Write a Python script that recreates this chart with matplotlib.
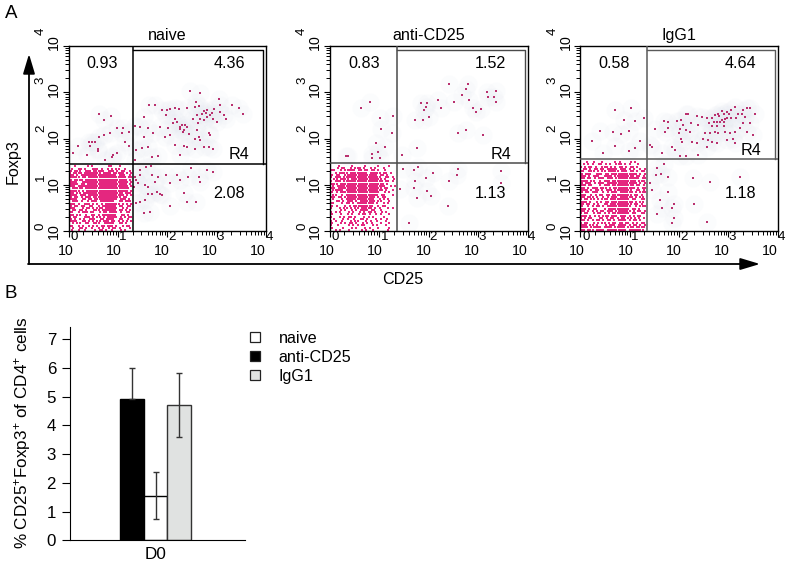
import numpy as np
import matplotlib
matplotlib.use("Agg")
import matplotlib.pyplot as plt
from matplotlib.lines import Line2D
from matplotlib.patches import FancyArrowPatch
from matplotlib.ticker import NullFormatter

plt.rcParams['font.family'] = ['Liberation Sans', 'DejaVu Sans']
plt.rcParams['mathtext.fontset'] = 'custom'
plt.rcParams['mathtext.rm'] = 'Liberation Sans'
plt.rcParams['mathtext.default'] = 'regular'

W, H = 788, 562
FS = 11.6
PINK = '#E4277F'
DOT = '#B9316F'

# flow panels: sparse events as (log10 CD25, log10 Foxp3)
naive_x = [1.35, 1.52, 1.64, 1.76, 1.45, 1.62, 1.72, 1.52, 1.37, 1.49, 1.6, 1.69, 1.82, 1.35, 1.86, 1.96, 2.06, 2.01,
           1.89, 1.99, 1.98, 2.06, 2.16, 2.23, 2.16, 2.2, 2.3, 2.36, 2.4, 2.26, 2.34, 2.16, 2.33, 2.4, 2.26, 2.57, 2.64,
           2.66, 2.57, 2.74, 2.84, 2.93, 2.84, 2.87, 2.6, 2.4, 2.57, 2.64, 2.74, 2.8, 2.94, 2.6, 2.67, 2.74, 2.8, 2.87,
           2.93, 3.0, 3.07, 3.14, 3.19, 3.31, 3.45, 3.53, 3.07, 2.47, 2.67, 2.58, 3.04, 2.7, 2.78, 2.9, 2.52, 2.63,
           2.25, 2.31, 2.12, 2.45,
           0.61, 0.71, 0.86, 0.99, 1.11, 1.22, 1.08, 0.84, 0.71, 0.61, 0.47, 0.54, 0.41, 0.44, 0.2, 0.1, 0.59, 0.37,
           0.59, 0.88, 0.91, 0.74, 0.98, 1.15, 1.22,
           1.35, 1.4, 1.33, 1.37, 1.45, 1.57, 1.67, 1.45, 1.69, 1.55, 1.62, 1.76, 1.82, 1.98, 2.2, 2.26, 2.06, 1.79,
           1.86, 1.69, 1.6, 1.89, 1.55, 1.45, 1.37, 1.66, 1.52, 2.06, 2.34, 2.4, 2.59, 2.48, 2.8, 2.93, 2.67, 2.64,
           2.43]
naive_y = [2.27, 2.47, 2.73, 2.72, 2.25, 2.22, 2.11, 2.04, 1.75, 1.8, 1.81, 1.6, 1.63, 1.53, 2.25, 2.04, 2.07, 2.22,
           2.61, 2.61, 2.5, 2.63, 2.66, 2.63, 2.43, 2.35, 2.3, 2.29, 2.25, 2.25, 2.18, 1.86, 1.84, 1.82, 1.65, 2.0, 2.04,
           1.96, 1.78, 1.82, 1.82, 1.78, 2.11, 2.07, 2.18, 2.65, 2.68, 2.7, 2.59, 2.61, 2.63, 2.5, 2.43, 2.4, 2.47, 2.5,
           2.43, 2.36, 2.58, 2.5, 2.43, 2.72, 2.65, 2.54, 2.72, 3.02, 2.99, 2.79, 2.86, 2.52, 2.55, 2.56, 2.42, 2.34,
           2.2, 2.14, 2.33, 2.1,
           2.54, 2.4, 2.48, 2.23, 2.23, 2.14, 2.11, 2.11, 2.07, 2.04, 1.93, 1.93, 1.93, 1.83, 1.83, 1.69, 1.78, 1.64,
           1.73, 1.6, 1.64, 1.53, 1.68, 1.93, 1.83,
           1.17, 1.03, 0.96, 1.1, 1.32, 1.39, 1.41, 1.21, 1.21, 1.0, 0.96, 1.07, 1.17, 1.21, 1.21, 1.1, 1.03, 0.85,
           0.81, 0.81, 0.81, 0.78, 0.68, 0.63, 0.6, 0.42, 0.4, 0.53, 0.83, 0.63, 0.63, 1.36, 1.32, 1.28, 1.07, 1.17,
           1.17]

anti_x = [2.4, 2.79, 2.76, 2.66, 3.17, 3.35, 3.2, 3.32, 3.35, 2.81, 2.5, 2.18, 1.85, 1.96, 1.95, 1.91, 2.0, 1.72, 1.89,
          2.24, 2.9, 3.05, 2.95, 2.76, 2.58, 3.09, 1.76, 1.47,
          0.82, 0.63, 1.02, 1.27, 1.04, 1.25, 0.94, 1.12, 0.85, 0.98, 1.02, 0.85, 0.33, 0.38,
          1.49, 1.7, 1.79, 2.58, 2.08, 1.95, 2.56, 2.4, 1.72, 3.45, 3.46, 1.42, 1.7, 1.97, 2.05, 1.76, 2.38, 1.6]
anti_y = [3.18, 3.18, 3.06, 2.95, 3.01, 3.03, 2.89, 2.89, 2.78, 2.83, 2.78, 2.83, 2.76, 2.76, 2.69, 2.62, 2.47, 2.39, 2.39,
          2.65, 2.67, 2.64, 2.58, 2.18, 2.11, 2.08, 1.79, 1.64,
          2.78, 2.65, 2.44, 2.49, 2.21, 2.11, 1.9, 1.82, 1.66, 1.7, 1.57, 1.57, 1.62, 1.62,
          1.34, 1.32, 1.39, 1.34, 1.25, 1.14, 1.21, 1.08, 1.08, 1.3, 1.03, 0.91, 0.92, 0.86, 0.76, 0.72, 0.55, 0.18]

igg_x = [1.52, 1.7, 1.78, 1.95, 2.05, 2.15, 2.18, 1.78, 1.72, 2.24, 2.39, 2.09, 2.02, 2.01, 2.15, 2.22, 2.05, 2.07, 2.26,
         2.36, 2.56, 2.59, 2.66, 2.76, 2.49, 2.53, 2.63, 2.73, 2.79, 2.93, 3.03, 3.13, 3.1, 3.13, 2.96, 1.41, 1.45, 1.65,
         1.85, 1.92, 2.02, 2.15, 2.39, 2.36, 2.46, 2.56, 2.61, 2.66, 2.73, 2.79, 2.8, 2.86, 2.9, 2.96, 3.02, 3.06, 3.13,
         3.2, 3.27, 3.3, 3.37, 3.43, 3.54, 3.33, 3.16, 3.06, 2.96, 2.86, 2.83, 2.9, 2.92, 2.76, 2.7, 2.66, 2.76, 2.9, 3.43,
         3.3, 3.23, 3.49, 3.37,
         0.71, 1.03, 0.88, 1.12, 1.29, 0.4, 0.67, 0.82, 0.98, 0.24, 0.71, 1.21, 1.12, 0.98, 0.46,
         1.56, 1.7, 1.54, 1.63, 1.78, 1.41, 1.45, 1.78, 1.62, 1.89, 1.85, 1.65, 1.56, 1.89, 1.85, 2.29, 2.63, 3.23, 2.3, 2.57]
igg_y = [2.2, 2.38, 2.35, 2.38, 2.4, 2.53, 2.53, 2.22, 2.15, 2.33, 2.29, 2.29, 2.2, 2.11, 2.18, 2.15, 2.0, 1.93, 1.93,
         1.91, 1.82, 1.97, 1.93, 1.9, 2.0, 2.11, 2.11, 2.15, 2.11, 2.15, 2.11, 2.13, 2.0, 1.9, 1.97, 1.86, 1.82, 1.68,
         1.81, 1.75, 1.63, 1.62, 1.64, 2.49, 2.46, 2.44, 2.33, 2.44, 2.51, 2.54, 2.48, 2.6, 2.53, 2.58, 2.54, 2.62, 2.69,
         2.54, 2.53, 2.62, 2.65, 2.65, 2.54, 2.47, 2.44, 2.44, 2.44, 2.4, 2.36, 2.36, 2.42, 2.36, 2.36, 2.26, 2.26, 2.26, 2.33,
         2.33, 2.22, 2.08, 2.15,
         2.62, 2.67, 2.41, 2.38, 2.44, 2.17, 2.13, 2.09, 2.17, 1.95, 1.84, 1.95, 1.79, 1.73, 1.68,
         1.37, 1.44, 1.21, 1.23, 1.17, 1.03, 0.89, 0.84, 0.68, 0.58, 0.5, 0.49, 0.36, 0.29, 0.17, 1.14, 1.05, 1.17, 0.58, 0.2]

# lower left gate, one row of cells per line, top row first
naive_dense = [
    "...#.....#.#.......##...#.....",
    ".#..##.#...###.#..#.#.##..#...",
    "##.###..###.#####..###.#.##..#",
    "#.####.########.####.#####.#.#",
    "###.#.#################.###..#",
    "#####.##.##################.##",
    "##.####.####################.#",
    "####..######################.#",
    "#####.##.###################.#",
    "###.########################.#",
    "#.#####.#####################.",
    "#####.#.####################.#",
    "###.##.###################.###",
    "####.###.#################.#.#",
    "##.##.#.###.#############.##..",
    "####..##.##.###########.###.#.",
    "#.###.#..#.###.#######..##.###",
    "###.#..###.#.#.#.#######.#.#.#",
    "##.##.##..##..#.#######.##..##",
    "###...#.##.#.###.######..#.#..",
    "#.##.##.#...###.#######.##.#.#",
    "##..#.###.##..#.##.####.#..##.",
    "###.##..#..##.#.#######..##.#.",
    "#.##...###.#.##.#.#####.#.#.##",
    "##.#.#.#..###..##.####..##..#.",
    "####..##.#.#.##.###.##.#.#.#.#",
    "#.#.##..##..###..#####..##.#..",
    "##..#.#..#.#.#.##.###.#..#.##.",
    "#.#..##.#..#..#.#..#.##.#....#",
    ".#..#..#....#.##.#..#...#.#...",
]
anti_dense = [
    "....#.....#.....#.....#....#..",
    "...#.##..#.###.#..#.#...#.....",
    ".##..#.#####.##.##.##.#..#....",
    "..#.####.########.#####.##.#..",
    ".#.##..###############.##.#...",
    "#.###.#################..##.#.",
    "..##.####.##############.#...#",
    "#.###.##################.##.#.",
    "####.####################.#...",
    ".#.######################..#.#",
    "###.####################.##...",
    ".#####.#################.#..#.",
    "##.#.##################..#.#..",
    ".##..#.###############.##...#.",
    "###.##.##############.#.##....",
    ".#...#.#############..#.#.#...",
    "#..##.#.###.#.#######.##...#..",
    "##...#.##.#.########.#..#.#...",
    ".#.#...#.#.#########..#.##....",
    "#...#.##.#.##.#####.#.#...#.#.",
    ".....#.#..#.#.####.##..#......",
    "#.#.#...#.#..#.#.##.#..#.#....",
    ".#...#..#.#..#.##.#..#.#...#..",
    "#...#.#.##.#...#.#.#....#.....",
    "..#...#.#..#..##.#...#.#..#...",
    "#.#..#...#.##...#.#..#...#....",
    ".#...#.#.##.#..#.#.#...#...#..",
    "#..#....#.#.#.##...#.#...#....",
    ".#....#...#.#...#.#...#....#..",
    "..#.#...#.....#.#..#......#...",
]
igg_dense = [
    "...#..#...#.....#.#....#.#....",
    ".#.#.#..##.#.#..###.#.#...#...",
    "#.#.##.#..###.#.#.##.#.##.#...",
    ".##.#.##.##.#####.###.#.#..#.#",
    "##..###.#.##.#####.###.##.#.##",
    "#.###..###.##.############.#.#",
    "###.#.###..####.#########.##.#",
    "##.##.#.###.###.###########.##",
    "####.##..#.###.###########.###",
    "#.###.#.###.##############.#.#",
    "###.##...#.###.##########.##.#",
    "##.#.###.###.#.##########.#.##",
    "####.#.##.#.###.########..##.#",
    "#.##.###..#.#.###.######.#.###",
    "###..#.#.##.##.#########.##.#.",
    "##.###.#..#.#.###.######.#.##.",
    "#.##.##.#.###.#########.##..##",
    "###.#..#.#.##.##########.#.##.",
    "##.##.#.#..##.##########.##.#.",
    "#..#.#.##.#.###########..#.###",
    "###.#.##...#.##########.##.#..",
    "##.#.#.#.##.###.#######.#.##.#",
    "#.##..#.##.#.#.########.##..##",
    "###.#.#.#.###.###.###.#.#.##..",
    "#.#.##...##.#.##.#.##.##.#.#.#",
    "##.#.#.##.#.##.#.####.#.##.#..",
    "#.##..#.#.##.#.##.##.##.#.#.##",
    "###.##.#...#.###.####.#.##.#.#",
    "####.#####.####.#####.###.####",
    "##.###.####.#########.#######.",
]

titles = ['naive', 'anti-CD25', 'IgG1']
upper_left = ['0.93', '0.83', '0.58']
upper_right = ['4.36', '1.52', '4.64']
lower_right = ['2.08', '1.13', '1.18']
x_gates = [1.31, 1.36, 1.35]
y_gates = [1.45, 1.46, 1.55]

# bar panel, in the order the bars stand
bar_names = ['anti-CD25', 'naive', 'IgG1']
bar_values = [4.9, 1.55, 4.7]
err_low = [0, 0.81, 1.11]
err_high = [1.1, 0.81, 1.11]
bar_colors = ['black', 'white', '#E0E2E1']
legend_order = [1, 0, 2]
y_ticks = [0, 1, 2, 3, 4, 5, 6, 7]


def axes_px(fig, left, top, right, bottom):
    return fig.add_axes([left / W, 1 - bottom / H, (right - left) / W, (bottom - top) / H])


def dense_events(rows, x_gate, y_gate):
    xs, ys = [], []
    for i, row in enumerate(rows):
        for j, c in enumerate(row):
            if c == '#':
                xs.append((j + 0.25 + 0.5 * (i % 2)) / len(row) * x_gate)
                ys.append((len(rows) - i - 0.5) / len(rows) * y_gate)
    return np.array(xs), np.array(ys)


def flow_panel(ax, n, xs, ys, rows, gate_color):
    xg, yg = x_gates[n], y_gates[n]
    ax.set_xscale('log')
    ax.set_yscale('log')

    xs = np.array(xs)
    ys = np.array(ys)
    ax.scatter(10 ** xs, 10 ** ys, s=170, color='#E6EAF2', alpha=0.14, linewidths=0, zorder=1)
    ax.scatter(10 ** xs, 10 ** ys, s=1.7, marker='s', color=DOT, linewidths=0, zorder=2)
    dx, dy = dense_events(rows, xg - 0.03, yg - 0.03)
    ax.scatter(10 ** dx, 10 ** dy, s=4.2, marker='s', color=PINK, linewidths=0, zorder=2)

    # gates and the R4 box
    ax.plot([10 ** xg, 10 ** xg], [1, 1e4], color=gate_color, lw=1.1, zorder=3)
    ax.plot([1, 1e4], [10 ** yg, 10 ** yg], color=gate_color, lw=1.1, zorder=3)
    ax.plot([10 ** xg, 10 ** 3.94, 10 ** 3.94], [10 ** 3.91, 10 ** 3.91, 10 ** yg], color=gate_color, lw=1.0, zorder=3)

    ax.text(10 ** 0.69, 10 ** 3.63, upper_left[n], fontsize=FS, ha='center', va='center')
    ax.text(10 ** 3.25, 10 ** 3.63, upper_right[n], fontsize=FS, ha='center', va='center')
    ax.text(10 ** 3.25, 10 ** 0.8, lower_right[n], fontsize=FS, ha='center', va='center')
    ax.text(10 ** 3.46, 10 ** (yg + 0.2), 'R4', fontsize=FS, ha='center', va='center')
    ax.set_title(titles[n], fontsize=FS, pad=4)

    majors = 10.0 ** np.arange(5)
    minors = np.outer(majors[:-1], np.arange(2, 10)).ravel()
    ax.set_xticks(majors)
    ax.set_xticks(minors, minor=True)
    ax.set_yticks(majors)
    ax.set_yticks(minors, minor=True)
    for axis in (ax.xaxis, ax.yaxis):
        axis.set_major_formatter(NullFormatter())
        axis.set_minor_formatter(NullFormatter())
    ax.set_xlim(1, 1e4)
    ax.set_ylim(1, 1e4)
    ax.tick_params(which='major', direction='out', length=4.5, width=0.8)
    ax.tick_params(which='minor', direction='out', length=2.8, width=0.7)
    for s in ax.spines.values():
        s.set_linewidth(1.0)

    # axis numbers: a plain 10 with its exponent set high, as in the scanned plot
    for d in range(5):
        tick = 10.0 ** d
        ax.annotate('10', (tick, 0), xycoords=ax.get_xaxis_transform(), xytext=(-3 - 1.2 * d, -20),
                    textcoords='offset pixels', fontsize=10.2, ha='center', va='center')
        ax.annotate(str(d), (tick, 0), xycoords=ax.get_xaxis_transform(), xytext=(6 - 0.7 * d, -6.5),
                    textcoords='offset pixels', fontsize=9.6, ha='center', va='center')
        ax.annotate('10', (0, tick), xycoords=ax.get_yaxis_transform(), xytext=(-14.5, 1 * d),
                    textcoords='offset pixels', fontsize=10.2, ha='center', va='center', rotation=90)
        ax.annotate(str(d), (0, tick), xycoords=ax.get_yaxis_transform(), xytext=(-27.5, 5 + 2.5 * d),
                    textcoords='offset pixels', fontsize=9.6, ha='center', va='center', rotation=90)


def main():
    fig = plt.figure(figsize=(W / 100, H / 100), dpi=100)

    flow_panel(axes_px(fig, 68.5, 46, 266, 231), 0, naive_x, naive_y, naive_dense, 'black')
    flow_panel(axes_px(fig, 329.5, 46, 528, 231), 1, anti_x, anti_y, anti_dense, '#4A4A4A')
    flow_panel(axes_px(fig, 580, 46, 778, 231), 2, igg_x, igg_y, igg_dense, '#5A5A5A')

    # long arrows shared by the three panels
    for start, end in (((29, 264), (29, 54)), ((28, 264), (760, 264))):
        fig.add_artist(FancyArrowPatch((start[0] / W, 1 - start[1] / H), (end[0] / W, 1 - end[1] / H),
                                       transform=fig.transFigure, arrowstyle='-|>,head_length=12,head_width=3.6',
                                       mutation_scale=1, color='black', lw=1.3, shrinkA=0, shrinkB=0))
    fig.text(13 / W, 1 - 162 / H, 'Foxp3', fontsize=FS, rotation=90, ha='center', va='center')
    fig.text(403 / W, 1 - 279 / H, 'CD25', fontsize=FS, ha='center', va='center')
    fig.text(11 / W, 1 - 13 / H, 'A', fontsize=13.5, ha='center', va='center')
    fig.text(11 / W, 1 - 294 / H, 'B', fontsize=13.5, ha='center', va='center')

    ax = axes_px(fig, 70, 326.7, 245, 540.3)
    pos = np.arange(len(bar_values))
    ax.bar(pos, bar_values, width=1, color=bar_colors, edgecolor=['black', 'black', '#333333'], linewidth=1.0)
    ax.errorbar(pos, bar_values, yerr=[err_low, err_high], fmt='none', ecolor='#333333', elinewidth=1.0,
                capsize=2.4, capthick=1.0)
    ax.set_xlim(-2.64, 4.81)
    ax.set_ylim(0, 7.43)
    ax.set_yticks(y_ticks)
    ax.set_xticks([pos[1]])
    ax.set_xticklabels(['D0'])
    ax.tick_params(axis='y', direction='out', length=5.5, width=0.8, labelsize=FS + 0.6, pad=4.5)
    ax.tick_params(axis='x', length=0, labelsize=12.3, pad=5)
    ax.spines['top'].set_visible(False)
    ax.spines['right'].set_visible(False)
    fig.text(23 / W, 1 - 433 / H, r'% CD25$^{+}$Foxp3$^{+}$ of CD4$^{+}$ cells', fontsize=12.3, rotation=90,
             ha='center', va='center')

    handles = [Line2D([], [], linestyle='none', marker='s', markersize=7.5, markerfacecolor=bar_colors[i],
                      markeredgecolor='#222222', markeredgewidth=0.9, label=bar_names[i]) for i in legend_order]
    ax.legend(handles=handles, loc='upper left', bbox_to_anchor=(245 / W, 1 - 331 / H),
              bbox_transform=fig.transFigure, frameon=False, fontsize=FS, labelspacing=0.25,
              handlelength=1.2, handletextpad=0.9, borderpad=0, borderaxespad=0)

    fig.savefig('out.png', dpi=100)


main()
